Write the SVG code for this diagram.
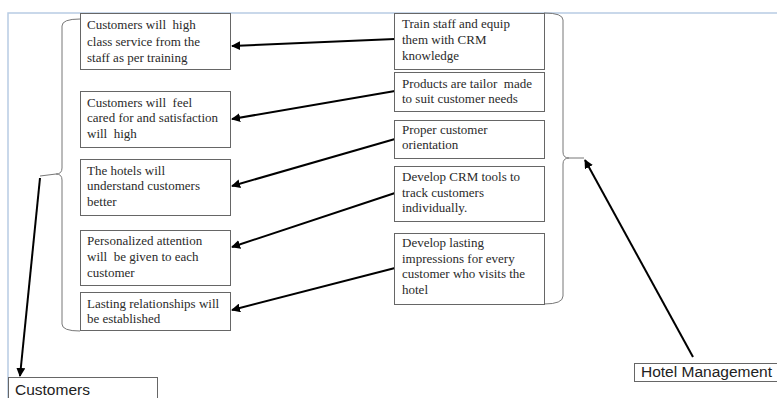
<svg xmlns="http://www.w3.org/2000/svg" width="777" height="398" viewBox="0 0 777 398">
<style>
.box{fill:#fff;stroke:#666;stroke-width:1}
.t{font-family:"Liberation Serif",serif;font-size:13px;fill:#2a2a2a;white-space:pre}
.s{font-family:"Liberation Sans",Arial,sans-serif;font-size:15.5px;fill:#222}
.br{fill:none;stroke:#777;stroke-width:1}
.ar{fill:none;stroke:#000;stroke-width:2;marker-end:url(#ah)}
</style>
<defs>
<marker id="ah" viewBox="0 0 10 10" refX="9" refY="5" markerWidth="4.5" markerHeight="4.5" orient="auto" markerUnits="strokeWidth">
<path d="M0,0 L10,5 L0,10 z" fill="#000"/>
</marker>
</defs>
<rect width="777" height="398" fill="#fff"/>
<path d="M8,398 V13 H777" fill="none" stroke="#b8cce4" stroke-width="1.5"/>

<g id="brackets">
<path class="br" d="M80,19 Q62,19 62,26 V168 Q62,174 56,174 L40,176 M56,174 Q62,174 62,180 V324 Q62,331 80,331"/>
<path class="br" d="M544,13 Q563,13 563,20 V152 Q563,158 569,158 L584,158 M569,158 Q563,158 563,164 V296 Q563,304 544,304"/>
</g>

<g id="connectors">
<line class="ar" x1="395" y1="39" x2="232" y2="46"/>
<line class="ar" x1="395" y1="91" x2="232" y2="119"/>
<line class="ar" x1="395" y1="139" x2="232" y2="186"/>
<line class="ar" x1="395" y1="193" x2="232" y2="247"/>
<line class="ar" x1="395" y1="268" x2="232" y2="310"/>
<line class="ar" x1="40" y1="178" x2="20" y2="376"/>
<line class="ar" x1="693" y1="357" x2="585" y2="160"/>
</g>

<g id="L1"><rect class="box" x="80.5" y="13.5" width="150" height="56"/>
<text class="t" x="87" y="29">Customers will  high</text><text class="t" x="87" y="46">class service from the</text><text class="t" x="87" y="62">staff as per training</text></g>
<g id="L2"><rect class="box" x="80.5" y="91.5" width="150" height="56"/>
<text class="t" x="87" y="107">Customers will  feel</text><text class="t" x="87" y="122">cared for and satisfaction</text><text class="t" x="87" y="138">will  high</text></g>
<g id="L3"><rect class="box" x="80.5" y="159.5" width="150" height="56"/>
<text class="t" x="87" y="175">The hotels will</text><text class="t" x="87" y="190">understand customers</text><text class="t" x="87" y="206">better</text></g>
<g id="L4"><rect class="box" x="80.5" y="230.5" width="150" height="55"/>
<text class="t" x="87" y="245">Personalized attention</text><text class="t" x="87" y="261">will  be given to each</text><text class="t" x="87" y="277">customer</text></g>
<g id="L5"><rect class="box" x="80.5" y="292.5" width="150" height="38"/>
<text class="t" x="87" y="308">Lasting relationships will</text><text class="t" x="87" y="323">be established</text></g>

<g id="R1"><rect class="box" x="394.5" y="13.5" width="150" height="56"/>
<text class="t" x="402" y="28">Train staff and equip</text><text class="t" x="402" y="44">them with CRM</text><text class="t" x="402" y="60">knowledge</text></g>
<g id="R2"><rect class="box" x="394.5" y="72.5" width="150" height="39"/>
<text class="t" x="402" y="88">Products are tailor  made</text><text class="t" x="402" y="103">to suit customer needs</text></g>
<g id="R3"><rect class="box" x="394.5" y="120.5" width="150" height="38"/>
<text class="t" x="402" y="134">Proper customer</text><text class="t" x="402" y="149">orientation</text></g>
<g id="R4"><rect class="box" x="394.5" y="166.5" width="150" height="55"/>
<text class="t" x="402" y="181">Develop CRM tools to</text><text class="t" x="402" y="197">track customers</text><text class="t" x="402" y="212">individually.</text></g>
<g id="R5"><rect class="box" x="394.5" y="233.5" width="150" height="71"/>
<text class="t" x="402" y="247">Develop lasting</text><text class="t" x="402" y="263">impressions for every</text><text class="t" x="402" y="278">customer who visits the</text><text class="t" x="402" y="294">hotel</text></g>

<g id="customers"><rect class="box" x="8.5" y="377.5" width="149" height="30"/>
<text class="s" x="15" y="395">Customers</text></g>
<g id="hotel"><rect class="box" x="634.5" y="363.5" width="150" height="18"/>
<text class="s" x="641" y="377">Hotel Management</text></g>
</svg>
